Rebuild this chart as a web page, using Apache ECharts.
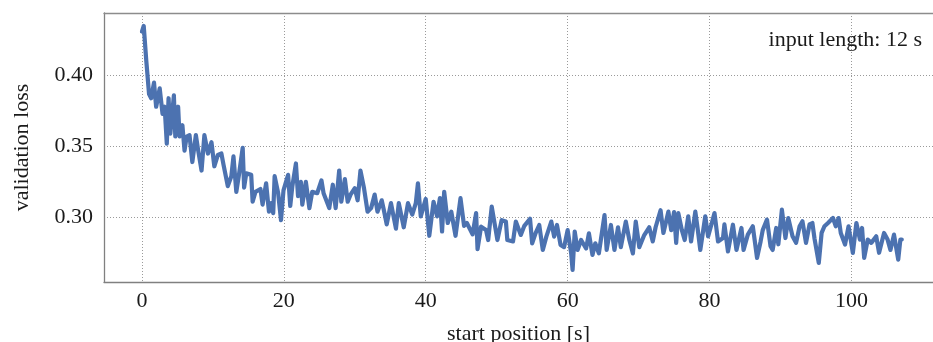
<!DOCTYPE html>
<html>
<head>
<meta charset="utf-8">
<script src="https://cdn.jsdelivr.net/npm/echarts@6/dist/echarts.min.js"></script>
<style>
  html, body { margin: 0; padding: 0; background: #ffffff; }
  #chart { width: 933px; height: 342px; }
</style>
</head>
<body>
<div id="chart"></div>
<script>
// Start position of the input window (seconds)
const startPositions = [
  0, 0.25, 0.6, 1.0, 1.3, 1.7, 2.0, 2.5, 2.9, 3.2, 3.5, 3.75, 4.0, 4.5, 4.7, 5.1, 5.3, 5.7, 6.0, 6.3,
  6.7, 7.1, 7.6, 7.9, 8.4, 8.8, 9.3, 9.8, 10.2, 10.7, 11.2, 11.5, 12.1, 12.6, 12.9, 13.3, 13.7, 14.2, 14.4, 14.7,
  15.4, 15.6, 16.0, 16.7, 17.0, 17.5, 17.9, 18.2, 18.5, 18.7, 19.2, 19.6, 19.95, 20.6, 20.9, 21.2, 21.7, 22.0, 22.4, 22.6,
  23.1, 23.6, 24.0, 24.7, 25.3, 25.6, 26.4, 26.9, 27.3, 27.8, 28.1, 28.6, 29.0, 29.4, 30.0, 30.4, 30.8, 31.3, 31.8, 32.3,
  32.8, 33.2, 33.8, 34.1, 34.5, 35.1, 35.8, 36.2, 36.9, 37.5, 38.1, 38.6, 38.9, 39.3, 40.0, 40.5, 41.1, 41.6, 42.0, 42.3,
  42.6, 43.1, 43.6, 44.2, 44.9, 45.4, 45.8, 46.6, 47.1, 47.3, 47.8, 48.5, 48.8, 49.3, 49.9, 50.1, 50.7, 51.3, 51.5, 52.3,
  52.7, 53.4, 53.9, 54.7, 55.0, 55.5, 56.0, 56.5, 57.0, 57.7, 58.1, 58.5, 59.0, 59.5, 60.0, 60.5, 60.7, 61.0, 61.4, 61.9,
  62.6, 63.0, 63.5, 63.9, 64.4, 65.2, 65.5, 66.1, 66.6, 67.1, 67.5, 68.2, 68.7, 69.2, 69.6, 70.1, 70.8, 71.5, 72.0, 72.4,
  73.1, 73.5, 74.2, 74.6, 75.0, 75.3, 75.6, 76.1, 76.5, 77.0, 77.4, 78.0, 78.3, 78.7, 79.4, 79.8, 80.2, 80.7, 81.2, 81.9,
  82.1, 82.6, 83.3, 83.8, 84.5, 84.8, 85.4, 86.1, 86.7, 87.2, 87.5, 88.1, 88.6, 88.9, 89.4, 89.7, 90.2, 90.7, 91.1, 91.7,
  92.2, 92.7, 93.1, 93.6, 94.1, 94.5, 94.8, 95.4, 95.8, 96.2, 96.7, 97.4, 97.8, 98.2, 98.5, 99.1, 99.6, 100.2, 100.7, 101.2,
  101.5, 101.8, 102.3, 102.8, 103.5, 103.9, 104.6, 105.1, 105.5, 106.0, 106.6, 106.9, 107.1
];

// Validation loss measured at each start position
const losses = [
  0.431, 0.435, 0.411, 0.387, 0.384, 0.395, 0.378, 0.391, 0.373, 0.378, 0.352, 0.384, 0.359, 0.386, 0.357, 0.378, 0.357, 0.365, 0.347, 0.357,
  0.358, 0.339, 0.358, 0.348, 0.333, 0.358, 0.345, 0.353, 0.336, 0.344, 0.345, 0.337, 0.322, 0.329, 0.343, 0.318, 0.331, 0.349, 0.321, 0.331,
  0.330, 0.311, 0.318, 0.320, 0.309, 0.324, 0.304, 0.310, 0.303, 0.329, 0.317, 0.298, 0.319, 0.330, 0.308, 0.322, 0.338, 0.315, 0.325, 0.309,
  0.325, 0.3065, 0.318, 0.317, 0.326, 0.317, 0.3065, 0.323, 0.3065, 0.333, 0.311, 0.327, 0.311, 0.316, 0.3205, 0.312, 0.333, 0.3205, 0.304, 0.3065,
  0.316, 0.304, 0.312, 0.305, 0.295, 0.310, 0.292, 0.310, 0.293, 0.310, 0.302, 0.310, 0.324, 0.3007, 0.313, 0.287, 0.311, 0.3007, 0.3135, 0.290,
  0.318, 0.296, 0.304, 0.287, 0.3135, 0.294, 0.296, 0.288, 0.303, 0.2775, 0.2934, 0.291, 0.284, 0.3075, 0.290, 0.284, 0.298, 0.297, 0.284, 0.283,
  0.297, 0.2876, 0.294, 0.299, 0.2817, 0.289, 0.2946, 0.277, 0.2864, 0.297, 0.2864, 0.2946, 0.2805, 0.279, 0.291, 0.2746, 0.263, 0.290, 0.277, 0.284,
  0.278, 0.2887, 0.2735, 0.2817, 0.2746, 0.3016, 0.277, 0.2946, 0.277, 0.293, 0.279, 0.297, 0.284, 0.2746, 0.297, 0.279, 0.2875, 0.293, 0.283, 0.293,
  0.305, 0.289, 0.304, 0.291, 0.3037, 0.282, 0.303, 0.291, 0.284, 0.3007, 0.283, 0.304, 0.293, 0.277, 0.3007, 0.2866, 0.2937, 0.303, 0.283, 0.2854,
  0.295, 0.276, 0.2948, 0.277, 0.2925, 0.277, 0.2878, 0.2937, 0.2714, 0.283, 0.291, 0.2984, 0.2796, 0.277, 0.2925, 0.281, 0.3054, 0.2854, 0.2995, 0.2866,
  0.282, 0.2937, 0.2972, 0.282, 0.295, 0.296, 0.285, 0.2678, 0.289, 0.2937, 0.296, 0.2995, 0.2937, 0.2995, 0.289, 0.2808, 0.2937, 0.2749, 0.296, 0.2843,
  0.2925, 0.2714, 0.2843, 0.282, 0.2866, 0.275, 0.289, 0.2843, 0.277, 0.2878, 0.2702, 0.2843, 0.2843
];

const xAxisName = 'start position [s]';
const yAxisName = 'validation loss';
const annotation = 'input length: 12 s';

const FONT = '"Liberation Serif", "DejaVu Serif", serif';
const series = startPositions.map((t, i) => [t, losses[i]]);

const chart = echarts.init(document.getElementById('chart'), null, { renderer: 'canvas' });

const dotted = { type: 'line', show: true, lineStyle: { color: '#9a9a9a', width: 1, type: [1, 2] } };

chart.setOption({
  animation: false,
  backgroundColor: '#ffffff',
  title: {
    text: annotation,
    right: 11,
    top: 29,
    padding: 0,
    textStyle: { fontFamily: FONT, fontSize: 22, fontWeight: 'normal', color: '#1a1a1a' }
  },
  grid: { left: 104, right: 0, top: 13, bottom: 60, outerBoundsMode: 'none', containLabel: false },
  xAxis: [{
    type: 'value',
    min: -5.35,
    max: 111.5,
    minInterval: 20,
    maxInterval: 20,
    name: xAxisName,
    nameLocation: 'middle',
    nameGap: 41,
    nameTextStyle: { fontFamily: FONT, fontSize: 22, color: '#1a1a1a' },
    axisLine: { show: true, onZero: false, lineStyle: { color: '#808080', width: 1.3 } },
    axisTick: { show: false },
    axisLabel: {
      fontFamily: FONT, fontSize: 22, color: '#1a1a1a', margin: 8,
      showMinLabel: false, showMaxLabel: false
    },
    splitLine: dotted
  }, {
    type: 'value',
    position: 'top',
    min: -5.35,
    max: 111.5,
    axisLine: { show: true, onZero: false, lineStyle: { color: '#8c8c8c', width: 1.3 } },
    axisTick: { show: false },
    axisLabel: { show: false },
    splitLine: { show: false }
  }],
  yAxis: {
    type: 'value',
    min: 0.2544,
    max: 0.4441,
    minInterval: 0.05,
    maxInterval: 0.05,
    name: yAxisName,
    nameLocation: 'middle',
    nameGap: 71,
    nameTextStyle: { fontFamily: FONT, fontSize: 22, color: '#1a1a1a' },
    axisLine: { show: true, onZero: false, lineStyle: { color: '#808080', width: 1.3 } },
    axisTick: { show: false },
    axisLabel: {
      fontFamily: FONT, fontSize: 22, color: '#1a1a1a', margin: 11,
      showMinLabel: false, showMaxLabel: false,
      formatter: v => v.toFixed(2)
    },
    splitLine: dotted
  },
  series: [{
    type: 'line',
    xAxisIndex: 0,
    data: series,
    showSymbol: false,
    symbol: 'none',
    smooth: false,
    lineStyle: { color: '#4c72b0', width: 4.2, join: 'round', cap: 'round' }
  }]
});
</script>
</body>
</html>
